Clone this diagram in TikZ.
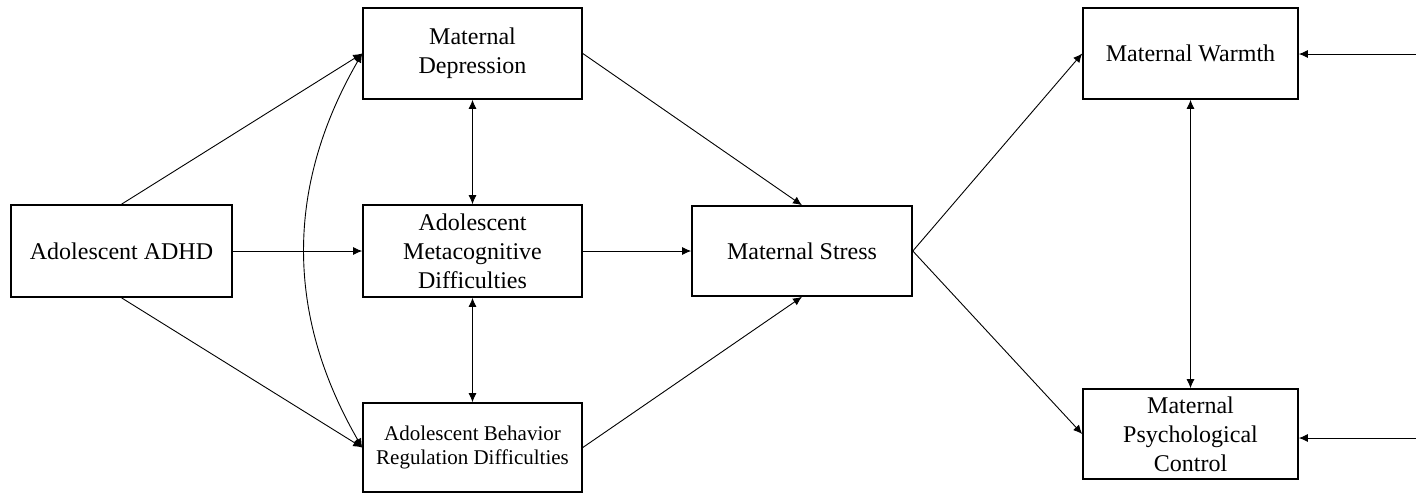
\documentclass[tikz,border=0pt]{standalone}
\usepackage{fontspec}
\setmainfont{Liberation Serif}
\usepackage{tikz}
\usetikzlibrary{arrows.meta}

\begin{document}
\begin{tikzpicture}[
        x = 0.5pt, y = -0.5pt,
        >= {Latex[length=4.5pt,width=4pt]},
        box/.style = {draw, line width=0.8pt, align=center, inner sep=2pt,
            font=\fontsize{12}{14.5}\selectfont},
        path/.style = {line width=0.45pt}
    ]
        \useasboundingbox (0,0) rectangle (1416,495);
        \node [box, minimum width=110.5pt, minimum height=46pt] (adhd) at (121.5,251) {Adolescent ADHD};
        \node [box, minimum width=109.5pt, minimum height=45.5pt] (dep) at (472.5,53.5) {Maternal\\Depression};
        \node [box, minimum width=109.5pt, minimum height=46pt] (meta) at (472.5,251) {Adolescent\\Metacognitive\\Difficulties};
        \node [box, minimum width=109.5pt, minimum height=44.5pt, font=\fontsize{10.5}{12.2}\selectfont] (behav) at (472.5,447.5) {Adolescent Behavior\\Regulation Difficulties};
        \node [box, minimum width=110pt, minimum height=45pt] (stress) at (802,251) {Maternal Stress};
        \node [box, minimum width=107.5pt, minimum height=45.5pt] (warmth) at (1190.5,53.5) {Maternal Warmth};
        \node [box, minimum width=107.5pt, minimum height=45pt] (control) at (1190.5,434) {Maternal\\Psychological\\Control};
        \coordinate (e1) at (1416,54);
        \coordinate (e2) at (1416,438);
        % paths from ADHD
        \draw [path,->] (adhd.north) -- (dep.west);
        \draw [path,->] (adhd.east) -- (meta.west);
        \draw [path,->] (adhd.south) -- (behav.west);
        \draw [path,<->] (dep.west) to[bend right=30] (behav.west);
        \draw [path,<->] (dep.south) -- (meta.north);
        \draw [path,<->] (meta.south) -- (behav.north);
        % paths to stress
        \draw [path,->] (dep.east) -- (stress.north);
        \draw [path,->] (meta.east) -- (stress.west);
        \draw [path,->] (behav.east) -- (stress.south);
        % outcomes
        \draw [path,->] (stress.east) -- (warmth.west);
        \draw [path,->] (stress.east) -- (control.west);
        \draw [path,<->] (warmth.south) -- (control.north);
        \draw [path,->] (e1) -- (e1 -| warmth.east);
        \draw [path,->] (e2) -- (e2 -| control.east);
\end{tikzpicture}
\end{document}
